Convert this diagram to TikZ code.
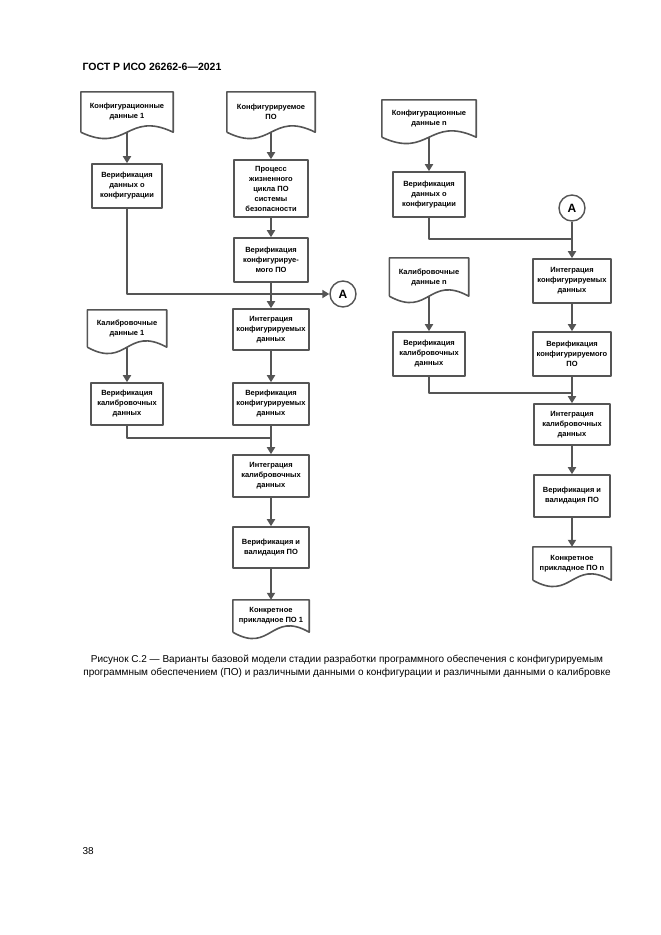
\documentclass[tikz,border=0pt]{standalone}
\usepackage{fontspec}
\setmainfont{Liberation Sans}
\usetikzlibrary{arrows.meta,calc}
\definecolor{linegray}{HTML}{555555}
\newcommand{\docframe}[1]{%
  \draw[frame] (#1.south west) -- (#1.north west) -- (#1.north east) -- (#1.south east)
    .. controls ($(#1.south)+(0,-22)$) and ($(#1.south)+(0,22)$) .. (#1.south west);}
\begin{document}
\begin{tikzpicture}[x=1pt,y=-1pt,line join=round,
  frame/.style={draw=linegray,line width=1.6pt},
  box/.style={frame,rectangle,align=center,inner sep=1pt,font=\fontsize{7.5}{10}\selectfont\bfseries},
  doc/.style={rectangle,align=center,inner sep=1pt,font=\fontsize{7.5}{10}\selectfont\bfseries},
  link/.style={draw=linegray,line width=1.8pt},
  arr/.style={link,-{Triangle[length=7pt,width=8pt]}},
  conn/.style={circle,frame,line width=1.4pt,minimum size=26pt,inner sep=0pt,font=\fontsize{12}{12}\selectfont\bfseries}]
 			\useasboundingbox (0,0) rectangle (661,935);
 			\node[anchor=west,font=\fontsize{10.5}{12}\selectfont\bfseries] (head) at (79,67) {ГОСТ Р ИСО 26262-6—2021};
 			% left part
 			\node[doc,minimum width=92pt,minimum height=40pt] (cfgA) at (127,112) {Конфигурационные\\данные 1};
 			\node[doc,minimum width=88pt,minimum height=40pt] (cfgswA) at (271,112) {Конфигурируемое\\ПО};
 			\node[box,minimum width=70pt,minimum height=44pt] (vcfgA) at (127,186) {Верификация\\данных о\\конфигурации};
 			\node[box,minimum width=74pt,minimum height=57pt] (procA) at (271,188.5) {Процесс\\жизненного\\цикла ПО\\системы\\безопасности};
 			\node[box,minimum width=74pt,minimum height=44pt] (vswA) at (271,260) {Верификация\\конфигурируе-\\мого ПО};
 			\node[conn] (circA) at (343,294) {A};
 			\node[doc,minimum width=79pt,minimum height=37pt] (calA) at (127,328.5) {Калибровочные\\данные 1};
 			\node[box,minimum width=76pt,minimum height=41pt] (intcfgA) at (271,329.5) {Интеграция\\конфигурируемых\\данных};
 			\node[box,minimum width=72pt,minimum height=42pt] (vcalA) at (127,404) {Верификация\\калибровочных\\данных};
 			\node[box,minimum width=76pt,minimum height=42pt] (vdataA) at (271,404) {Верификация\\конфигурируемых\\данных};
 			\node[box,minimum width=76pt,minimum height=42pt] (intcalA) at (271,476) {Интеграция\\калибровочных\\данных};
 			\node[box,minimum width=76pt,minimum height=41pt] (vvA) at (271,547.5) {Верификация и\\валидация ПО};
 			\node[doc,minimum width=76pt,minimum height=32pt] (prodA) at (271,616) {Конкретное\\прикладное ПО 1};
 			\coordinate (jA) at (271,438);
 			\foreach \d in {cfgA,cfgswA,calA,prodA} {\docframe{\d}}
 			\draw[arr] (cfgA.south) -- (vcfgA.north);
 			\draw[arr] (cfgswA.south) -- (procA.north);
 			\draw[arr] (procA.south) -- (vswA.north);
 			\draw[arr] (vcfgA.south) |- (circA.west);
 			\draw[arr] (vswA.south) -- (intcfgA.north);
 			\draw[arr] (calA.south) -- (vcalA.north);
 			\draw[arr] (intcfgA.south) -- (vdataA.north);
 			\draw[link] (vcalA.south) |- (jA);
 			\draw[arr] (vdataA.south) -- (intcalA.north);
 			\draw[arr] (intcalA.south) -- (vvA.north);
 			\draw[arr] (vvA.south) -- (prodA.north);
 			% right part
 			\node[doc,minimum width=94pt,minimum height=37pt] (cfgB) at (429,118.5) {Конфигурационные\\данные n};
 			\node[box,minimum width=72pt,minimum height=45pt] (vcfgB) at (429,194.5) {Верификация\\данных о\\конфигурации};
 			\node[conn] (circB) at (572,208) {A};
 			\node[doc,minimum width=79pt,minimum height=38pt] (calB) at (429,277) {Калибровочные\\данные n};
 			\node[box,minimum width=78pt,minimum height=44pt] (intcfgB) at (572,281) {Интеграция\\конфигурируемых\\данных};
 			\node[box,minimum width=72pt,minimum height=44pt] (vcalB) at (429,354) {Верификация\\калибровочных\\данных};
 			\node[box,minimum width=78pt,minimum height=44pt] (vswB) at (572,354) {Верификация\\конфигурируемого\\ПО};
 			\node[box,minimum width=76pt,minimum height=41pt] (intcalB) at (572,424.5) {Интеграция\\калибровочных\\данных};
 			\node[box,minimum width=76pt,minimum height=42pt] (vvB) at (572,496) {Верификация и\\валидация ПО};
 			\node[doc,minimum width=78pt,minimum height=33pt] (prodB) at (572,563.5) {Конкретное\\прикладное ПО n};
 			\coordinate (jB) at (572,239);
 			\coordinate (jC) at (572,393);
 			\foreach \d in {cfgB,calB,prodB} {\docframe{\d}}
 			\draw[arr] (cfgB.south) -- (vcfgB.north);
 			\draw[link] (vcfgB.south) |- (jB);
 			\draw[arr] (circB.south) -- (intcfgB.north);
 			\draw[arr] (calB.south) -- (vcalB.north);
 			\draw[arr] (intcfgB.south) -- (vswB.north);
 			\draw[link] (vcalB.south) |- (jC);
 			\draw[arr] (vswB.south) -- (intcalB.north);
 			\draw[arr] (intcalB.south) -- (vvB.north);
 			\draw[arr] (vvB.south) -- (prodB.north);
 			\node[align=center,font=\fontsize{10}{13}\selectfont] (cap) at (347,666) {Рисунок С.2 — Варианты базовой модели стадии разработки программного обеспечения с конфигурируемым\\программным обеспечением (ПО) и различными данными о конфигурации и различными данными о калибровке};
 			\node[anchor=west,font=\fontsize{10}{12}\selectfont] (page) at (79,851) {38};
\end{tikzpicture}
\end{document}
